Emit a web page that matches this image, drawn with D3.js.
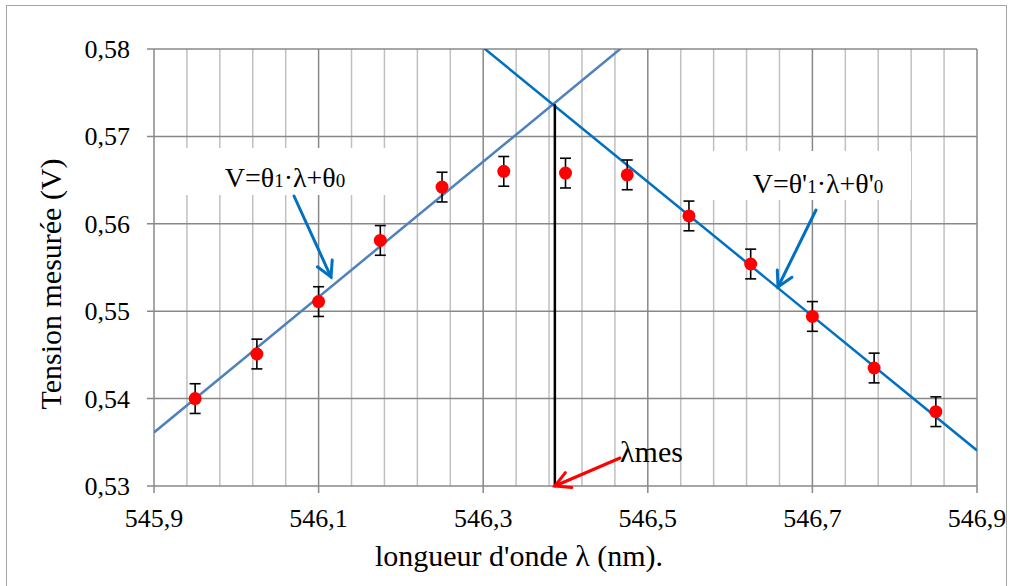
<!DOCTYPE html>
<html>
<head>
<meta charset="utf-8">
<script src="https://cdn.jsdelivr.net/npm/d3@7"></script>
<style>
  body { margin: 0; background: #fff; }
  svg text { font-family: "Times New Roman", Times, "Liberation Serif", "DejaVu Serif", "Noto Serif", serif; }
</style>
</head>
<body>
<svg width="1010" height="586"></svg>
<script>
// measured points
const lambdas = [545.95, 546.025, 546.1, 546.175, 546.25, 546.325, 546.4, 546.475, 546.55, 546.625, 546.7, 546.775, 546.85];
const tensions = [0.5400, 0.5451, 0.5511, 0.5581, 0.5642, 0.5660, 0.5658, 0.5656, 0.5609, 0.5554, 0.5494, 0.5435, 0.5385];
const errors = [0.0017, 0.0017, 0.0017, 0.0017, 0.0017, 0.0017, 0.0017, 0.0017, 0.0017, 0.0017, 0.0017, 0.0017, 0.0017];

// tick labels
const xTicks = [545.9, 546.1, 546.3, 546.5, 546.7, 546.9];
const xMinor = d3.range(0, 26).map(i => 545.9 + i * 0.04);
const yTicks = [0.53, 0.54, 0.55, 0.56, 0.57, 0.58];

// fitted lines: [lambda0, V0, slope]
const fitRising = [545.9, 0.53613, 0.07745];
const fitFalling = [546.9, 0.53407, -0.07683];

const svg = d3.select('svg');
const width = +svg.attr('width');
const height = +svg.attr('height');

const margin = { left: 154, right: 33, top: 49, bottom: 100 };
const x = d3.scaleLinear().domain([545.9, 546.9]).range([margin.left, width - margin.right]);
const y = d3.scaleLinear().domain([0.53, 0.58]).range([height - margin.bottom, margin.top]);

const fmt = d => d3.format('.2f')(d).replace('.', ',');
const fmtX = d => d3.format('.1f')(d).replace('.', ',');

// outer border
svg.append('rect')
    .attr('x', 6.5).attr('y', 5.5)
    .attr('width', width - 10).attr('height', height)
    .attr('fill', 'none').attr('stroke', '#a6a6a6');

const defs = svg.append('defs');
defs.append('clipPath').attr('id', 'plot')
  .append('rect')
    .attr('x', x.range()[0]).attr('y', y.range()[1])
    .attr('width', x.range()[1] - x.range()[0])
    .attr('height', y.range()[0] - y.range()[1]);

// grid
const grid = svg.append('g');
grid.selectAll('.minor').data(xMinor.filter((d, i) => i % 5 !== 0))
  .enter().append('line')
    .attr('x1', d => x(d)).attr('x2', d => x(d))
    .attr('y1', y(0.58)).attr('y2', y(0.53))
    .attr('stroke', '#c0c0c0').attr('stroke-width', 1.5);
grid.selectAll('.major').data(xTicks)
  .enter().append('line')
    .attr('x1', d => x(d)).attr('x2', d => x(d))
    .attr('y1', y(0.58)).attr('y2', y(0.53) + 7)
    .attr('stroke', '#888').attr('stroke-width', 1.5);
grid.selectAll('.hy').data(yTicks)
  .enter().append('line')
    .attr('x1', x(545.9) - 7).attr('x2', x(546.9))
    .attr('y1', d => y(d)).attr('y2', d => y(d))
    .attr('stroke', '#888').attr('stroke-width', 1.5);

// axis labels
svg.append('g').selectAll('text').data(yTicks)
  .enter().append('text')
    .attr('x', 130).attr('y', d => y(d) + 9)
    .attr('text-anchor', 'end')
    .attr('font-size', 26)
    .text(fmt);
svg.append('g').selectAll('text').data(xTicks)
  .enter().append('text')
    .attr('x', d => x(d)).attr('y', 527)
    .attr('text-anchor', 'middle')
    .attr('font-size', 26)
    .text(fmtX);

svg.append('text')
    .attr('x', 519).attr('y', 566)
    .attr('text-anchor', 'middle')
    .attr('font-size', 30)
    .text("longueur d'onde \u03bb (nm).");
svg.append('text')
    .attr('transform', 'translate(61,284) rotate(-90)')
    .attr('text-anchor', 'middle')
    .attr('font-size', 30)
    .text('Tension mesurée (V)');

// label boxes hide the grid
const labels = [
  { box: [181, 148, 207, 47], x: 285, y: 187, parts: ['V=\u03b8', '1', '\u00b7\u03bb+\u03b8', '0'] },
  { box: [711, 151, 200, 49], x: 818, y: 193, parts: ["V=\u03b8'", '1', "\u00b7\u03bb+\u03b8'", '0'] }
];
svg.selectAll('.lbox').data(labels)
  .enter().append('rect')
    .attr('x', d => d.box[0]).attr('y', d => d.box[1])
    .attr('width', d => d.box[2]).attr('height', d => d.box[3])
    .attr('fill', '#fff');

// fit lines
const fitValue = (f, l) => f[1] + f[2] * (l - f[0]);
const fitLine = d3.line().x(d => x(d[0])).y(d => y(d[1]));
const plot = svg.append('g').attr('clip-path', 'url(#plot)');
[[fitRising, '#4f81bd'], [fitFalling, '#0070c0']].forEach(([f, c]) => {
  plot.append('path')
      .datum([545.9, 546.9].map(l => [l, fitValue(f, l)]))
      .attr('d', fitLine)
      .attr('fill', 'none')
      .attr('stroke', c)
      .attr('stroke-width', 2.5);
});

// intersection -> lambda mes
const lMes = fitRising[0] + (fitFalling[1] - fitRising[1] - fitFalling[2] * (fitFalling[0] - fitRising[0])) / (fitRising[2] - fitFalling[2]);
const vMes = fitValue(fitRising, lMes);
svg.append('line')
    .attr('x1', x(lMes) + 2).attr('x2', x(lMes) + 2)
    .attr('y1', y(vMes)).attr('y2', y(0.53))
    .attr('stroke', '#000').attr('stroke-width', 2.5);

// error bars
const pts = d3.range(lambdas.length).map(i => ({ l: lambdas[i], v: tensions[i], e: errors[i] }));
const bars = svg.append('g').attr('stroke', '#000').attr('stroke-width', 1.6);
bars.selectAll('.v').data(pts).enter().append('line')
    .attr('x1', d => x(d.l)).attr('x2', d => x(d.l))
    .attr('y1', d => y(d.v - d.e)).attr('y2', d => y(d.v + d.e));
bars.selectAll('.t').data(pts).enter().append('line')
    .attr('x1', d => x(d.l) - 5.5).attr('x2', d => x(d.l) + 5.5)
    .attr('y1', d => y(d.v + d.e)).attr('y2', d => y(d.v + d.e));
bars.selectAll('.b').data(pts).enter().append('line')
    .attr('x1', d => x(d.l) - 5.5).attr('x2', d => x(d.l) + 5.5)
    .attr('y1', d => y(d.v - d.e)).attr('y2', d => y(d.v - d.e));

svg.append('g').selectAll('circle').data(pts)
  .enter().append('circle')
    .attr('cx', d => x(d.l)).attr('cy', d => y(d.v))
    .attr('r', 6.5)
    .attr('fill', '#ff0000');

// equation labels
labels.forEach(d => {
  const t = svg.append('text')
      .attr('x', d.x).attr('y', d.y)
      .attr('text-anchor', 'middle')
      .attr('font-size', 28);
  d.parts.forEach((p, i) => {
    t.append('tspan').attr('font-size', i % 2 ? 19 : 28).text(p);
  });
});

// arrows
const arrow = (x1, y1, x2, y2, color, w) => {
  const a = Math.atan2(y2 - y1, x2 - x1);
  const len = 17, spread = 0.5;
  const g = svg.append('g').attr('stroke', color).attr('stroke-width', w)
      .attr('fill', 'none').attr('stroke-linecap', 'round');
  g.append('line').attr('x1', x1).attr('y1', y1).attr('x2', x2).attr('y2', y2);
  g.append('path').attr('d', d3.line()([
    [x2 - len * Math.cos(a - spread), y2 - len * Math.sin(a - spread)],
    [x2, y2],
    [x2 - len * Math.cos(a + spread), y2 - len * Math.sin(a + spread)]
  ]));
};
arrow(294, 196, 331, 277, '#0070c0', 3);
arrow(816, 210, 778, 287, '#0070c0', 3);
arrow(620, 458, x(lMes) + 2, y(0.53), '#ff0000', 3);

svg.append('text')
    .attr('x', 620).attr('y', 462)
    .attr('font-size', 30)
    .text('\u03bbmes');
</script>
</body>
</html>
